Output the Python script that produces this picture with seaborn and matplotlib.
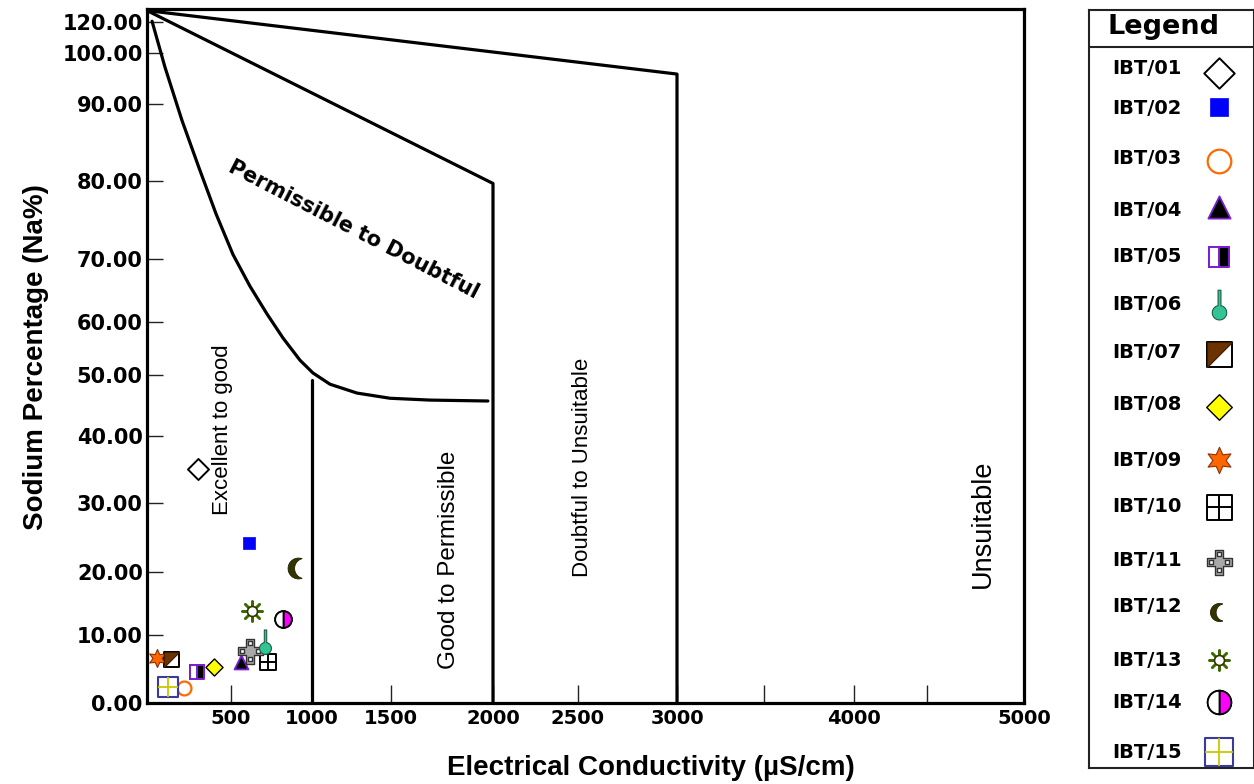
import numpy as np
import pandas as pd
import matplotlib
matplotlib.use("Agg")
import matplotlib.pyplot as plt
from matplotlib.path import Path
import seaborn as sns

# ------------------------------------------------------------------ data ----
samples = ["IBT/01", "IBT/02", "IBT/03", "IBT/04", "IBT/05", "IBT/06", "IBT/07",
           "IBT/08", "IBT/09", "IBT/10", "IBT/11", "IBT/12", "IBT/13", "IBT/14",
           "IBT/15"]
ec_values = [304, 611, 220, 562, 298, 710, 143, 399, 60, 728, 617, 914, 630, 821, 125]
na_values = [35.1, 24.2, 2.2, 6.0, 4.6, 9.0, 6.5, 5.3, 6.6, 6.0, 7.6, 20.6, 13.8, 12.5, 2.4]

# Wilcox diagram class boundaries (EC in uS/cm, Na %)
outer_ec = [0, 3000, 3000]
outer_na = [127.5, 95.9, 0]
middle_ec = [0, 2000, 2000]
middle_na = [127.5, 79.7, 0]
curve_ec = [30, 107, 208, 310, 411, 512, 617, 722, 821, 926, 1006, 1114, 1285, 1494,
            1691, 1975]
curve_na = [120.6, 97.25, 87.9, 81.7, 75.8, 70.6, 65.7, 61.3, 57.0, 52.8, 50.4, 48.5,
            47.05, 46.2, 45.9, 45.75]
split_ec = [1000, 1000]
split_na = [49.2, 0]

x_ticks = [500, 1000, 1500, 2000, 2500, 3000, 3500, 4000, 4500, 5000]
x_tick_labels = ["500", "1000", "1500", "2000", "2500", "3000", "", "4000", "", "5000"]
y_ticks = [0, 10, 20, 30, 40, 50, 60, 70, 80, 90, 100, 120]
y_tick_labels = ["0.00", "10.00", "20.00", "30.00", "40.00", "50.00", "60.00",
                 "70.00", "80.00", "90.00", "100.00", "120.00"]

zone_names = ["Excellent to good", "Good to Permissible", "Doubtful to Unsuitable",
              "Unsuitable", "Permissible to Doubtful"]

# --------------------------------------------------------------- layout ----
# non-uniform graduation of the diagram axes (value -> distance along axis)
X_GRAD_VAL = [0, 500, 1000, 1500, 2000, 2500, 3000, 3500, 4000, 4500, 5000]
X_GRAD_PX = [0, 84, 165, 244, 346, 431, 530, 617, 707, 780, 877]
Y_GRAD_VAL = [0, 10, 20, 30, 40, 50, 60, 70, 80, 90, 100, 120, 130]
Y_GRAD_PX = [0, 68, 131, 200, 267, 328, 381, 444, 522, 599, 650, 681, 696.5]

zone_pos = [(452, 41.0, 90), (1784, 21.7, 90), (2525, 35.4, 90), (4789, 27.0, 90),
            (1266, 73.8, -27.3)]
zone_font = [dict(fontsize=16, family="Liberation Sans"),
             dict(fontsize=17.5, family="Liberation Sans"),
             dict(fontsize=16, family="Liberation Sans"),
             dict(fontsize=19.5, family="Liberation Sans"),
             dict(fontsize=15, family="DejaVu Sans", fontweight="bold")]

LEG_LABEL_Y = [68, 108, 158, 210, 257, 305, 353, 405, 460, 506, 560, 607, 660, 703, 752]
LEG_MARK_Y = [73, 107, 161, 207, 257, 305, 354, 407, 460, 507, 562, 612, 660, 702, 752]


# -------------------------------------------------------- custom markers ----
def bulb_path():
    r, cy, w, top = 0.45, -0.45, 0.09, 0.95
    dy = np.sqrt(r ** 2 - w ** 2)
    th0 = np.degrees(np.arctan2(dy, w))
    th = np.radians(np.linspace(th0, -180 - th0, 60))
    arc = np.column_stack([r * np.cos(th), cy + r * np.sin(th)])
    verts = np.vstack([[[w, top]], arc, [[-w, top]], [[w, top]]])
    codes = [Path.MOVETO] + [Path.LINETO] * (len(verts) - 2) + [Path.CLOSEPOLY]
    return Path(verts, codes)


def moon_path():
    t1 = np.radians(np.linspace(70, 290, 50))
    outer = np.column_stack([np.cos(t1), np.sin(t1)])
    cx, r = 0.6, 0.975
    t2 = np.radians(np.linspace(254.6, 105.4, 50))
    inner = np.column_stack([cx + r * np.cos(t2), r * np.sin(t2)])
    verts = np.vstack([outer, inner, outer[:1]])
    codes = [Path.MOVETO] + [Path.LINETO] * (len(verts) - 2) + [Path.CLOSEPOLY]
    return Path(verts, codes)


def tri_path():
    verts = [(-1, -1), (-1, 1), (1, 1), (-1, -1)]
    return Path(verts, [Path.MOVETO, Path.LINETO, Path.LINETO, Path.CLOSEPOLY])


def cross_path():
    a = 0.33
    outer = [(-a, 1), (a, 1), (a, a), (1, a), (1, -a), (a, -a), (a, -1), (-a, -1),
             (-a, -a), (-1, -a), (-1, a), (-a, a), (-a, 1)]
    verts = list(outer)
    codes = [Path.MOVETO] + [Path.LINETO] * (len(outer) - 2) + [Path.CLOSEPOLY]
    h = 0.15
    for cx, cy in [(0, 0.66), (0.66, 0), (0, -0.66), (-0.66, 0)]:
        sq = [(cx - h, cy - h), (cx + h, cy - h), (cx + h, cy + h), (cx - h, cy + h),
              (cx - h, cy - h)]
        verts += sq
        codes += [Path.MOVETO, Path.LINETO, Path.LINETO, Path.LINETO, Path.CLOSEPOLY]
    return Path(verts, codes)


BULB, MOON, TRI, CROSS = bulb_path(), moon_path(), tri_path(), cross_path()
purple = "#7b1fd1"

STY = {
    "IBT/01": dict(m="D", fc="white", ec="black", lw=1.4, ms=(10.7, 15.5)),
    "IBT/02": dict(m="s", fc="#0000ff", ec="#0000ff", lw=0.5, ms=(8.4, 12.5)),
    "IBT/03": dict(m="o", fc="white", ec="#ff6a00", lw=1.6, ms=(10, 17)),
    "IBT/04": dict(m="^", fc="black", ec=purple, lw=1.3, ms=(10, 16)),
    "IBT/05": dict(m="s", fc="white", ec=purple, lw=1.4, ms=(10, 15),
                   over=[dict(marker="s", fillstyle="right", markerfacecolor="black",
                              markerfacecoloralt="white", markeredgecolor=purple,
                              markeredgewidth=1.4)]),
    "IBT/06": dict(m=BULB, fc="#33c495", ec="#1d5e48", lw=0.8, ms=(18, 22), z=8),
    "IBT/07": dict(m="s", fc="white", ec="black", lw=1.4, ms=(10.8, 18),
                   over=[dict(marker=TRI, markerfacecolor="#6b3300",
                              markeredgecolor="#3b1a00", markeredgewidth=0.8)]),
    "IBT/08": dict(m="D", fc="#ffff00", ec="black", lw=1.0, ms=(8.7, 13)),
    "IBT/09": dict(m=(6, 1, 0), fc="#ff6600", ec="#8a3300", lw=0.8, ms=(13, 19)),
    "IBT/10": dict(m="s", fc="white", ec="black", lw=1.4, ms=(12, 18),
                   over=[dict(marker="+", color="black", markeredgecolor="black",
                              markeredgewidth=1.4)]),
    "IBT/11": dict(m=CROSS, fc="#a9a9a9", ec="#333333", lw=1.0, ms=(18, 18)),
    "IBT/12": dict(m=MOON, fc="#333300", ec="#222200", lw=0.6, ms=(15, 13)),
    "IBT/13": dict(m=(8, 2, 0), fc="#3d6b00", ec=None, lw=1.8, ms=(14.4, 14.4),
                   over=[dict(marker="o", markerfacecolor="white", markeredgecolor="#333300",
                              markeredgewidth=1.2, k=0.5)]),
    "IBT/14": dict(m="o", fc="white", ec="black", lw=1.3, ms=(12, 17),
                   over=[dict(marker="o", fillstyle="right", markerfacecolor="#ff00ff",
                              markerfacecoloralt="white", markeredgecolor="black",
                              markeredgewidth=1.3)]),
    "IBT/15": dict(m="s", fc="white", ec="#3a3a9a", lw=1.5, ms=(14, 20),
                   over=[dict(marker="+", color="#c8c800", markeredgecolor="#c8c800",
                              markeredgewidth=1.3)]),
}


def draw_marker(ax, x, y, key, which):
    st = STY[key]
    z = st.get("z", 5)
    ms = st["ms"][which]
    kw = dict(marker=st["m"], s=ms ** 2, color=st["fc"], linewidth=st["lw"], zorder=z,
              legend=False, ax=ax)
    if st["ec"] is not None:
        kw["edgecolor"] = st["ec"]
    sns.scatterplot(x=[x], y=[y], **kw)
    for ov in st.get("over", []):
        ov = dict(ov)
        k = ov.pop("k", 1.0)
        ax.plot([x], [y], linestyle="none", markersize=ms * k, zorder=z + 1, **ov)


# ---------------------------------------------------------------- figure ----
sns.set_theme(style="white")
plt.rcParams["font.family"] = ["DejaVu Sans"]

fig = plt.figure(figsize=(12.54, 7.84), dpi=100, facecolor="white")
ax = fig.add_axes([147 / 1254, 81 / 784, 877 / 1254, 694 / 784])

line_kw = dict(color="black", linewidth=2.3, sort=False, estimator=None, ax=ax,
               legend=False)
for bx, by in [(outer_ec, outer_na), (middle_ec, middle_na), (curve_ec, curve_na),
               (split_ec, split_na)]:
    sns.lineplot(x=bx, y=by, **line_kw)

df = pd.DataFrame({"sample": samples, "ec": ec_values, "na": na_values})
for _, row in df.iterrows():
    draw_marker(ax, row["ec"], row["na"], row["sample"], 0)

for name, (zx, zy, rot), fnt in zip(zone_names, zone_pos, zone_font):
    ax.text(zx, zy, name, rotation=rot, ha="center", va="center", color="black", **fnt)

# irregular diagram graduation
ax.set_xscale("function", functions=(lambda v: np.interp(v, X_GRAD_VAL, X_GRAD_PX),
                                     lambda p: np.interp(p, X_GRAD_PX, X_GRAD_VAL)))
ax.set_yscale("function", functions=(lambda v: np.interp(v, Y_GRAD_VAL, Y_GRAD_PX),
                                     lambda p: np.interp(p, Y_GRAD_PX, Y_GRAD_VAL)))
ax.set_xlim(0, 5000)
ax.set_ylim(0, 128.5)
ax.set_xticks(x_ticks, x_tick_labels)
ax.set_yticks(y_ticks, y_tick_labels)
ax.minorticks_off()
for lab in ax.get_xticklabels():
    lab.set_fontsize(14)
    lab.set_fontweight("bold")
for lab in ax.get_yticklabels():
    lab.set_fontsize(15)
    lab.set_fontweight("bold")
ax.tick_params(axis="both", direction="in", width=1.0, color="#222222",
               bottom=True, left=True, top=False, right=False, labelcolor="black")
ax.tick_params(axis="y", length=11.5, pad=3)
ax.tick_params(axis="x", length=13, pad=4)
for s in ax.spines.values():
    s.set_linewidth(2.3)
    s.set_color("black")
ax.grid(False)

ax.set_xlabel("Electrical Conductivity (\u00b5S/cm)", fontsize=20, fontweight="bold",
              family="Liberation Sans", color="black")
ax.set_ylabel("Sodium Percentage (Na%)", fontsize=20, fontweight="bold",
              family="Liberation Sans", color="black")
ax.xaxis.set_label_coords(0.574, -0.0937)
ax.xaxis.label.set_va("center")
ax.yaxis.set_label_coords(-0.127, 0.4986)
ax.yaxis.label.set_va("center")

# ---------------------------------------------------------------- legend ----
lax = fig.add_axes([1089 / 1254, 16 / 784, 164.5 / 1254, 758 / 784])
lax.set_facecolor("white")
for _, row in df.reset_index().iterrows():
    i = row["index"]
    draw_marker(lax, 1219, LEG_MARK_Y[i], row["sample"], 1)
    lax.text(1147, LEG_LABEL_Y[i], row["sample"], ha="center", va="center",
             fontsize=14, fontweight="bold", color="black")
lax.set_xlim(1089, 1253.5)
lax.set_ylim(768, 10)
lax.set_xticks([])
lax.set_yticks([])
lax.axhline(47, color="#222222", linewidth=1.5)
lax.text(1163, 27, "Legend", ha="center", va="center", fontsize=19.5,
         fontweight="bold", color="black")
for s in lax.spines.values():
    s.set_linewidth(1.5)
    s.set_color("#222222")

fig.savefig("out.png", dpi=100, facecolor="white")
